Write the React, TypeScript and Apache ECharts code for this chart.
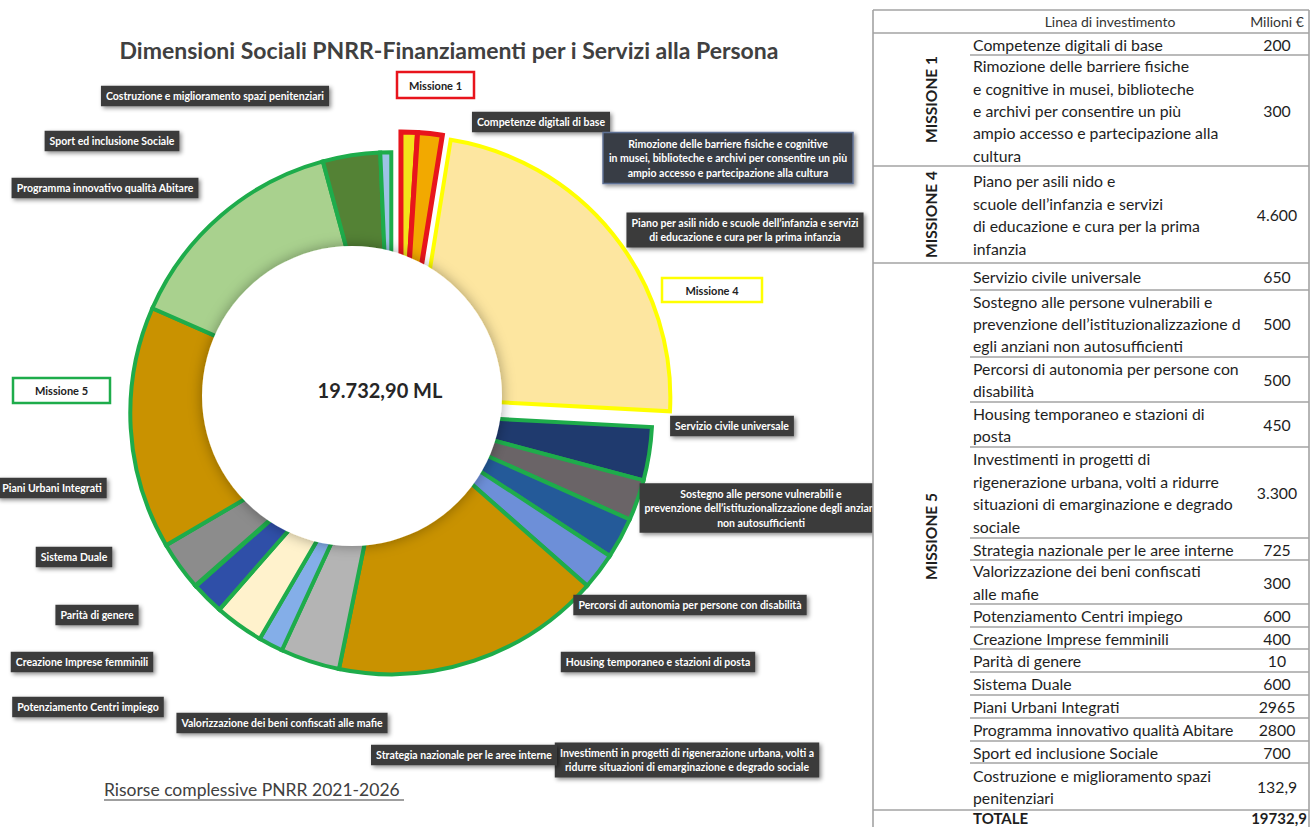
import React, { useEffect, useRef } from "react";
import * as echarts from "echarts";

// ---------------- DATA ----------------
const categories = [
  "Competenze digitali di base",
  "Rimozione delle barriere fisiche e cognitive in musei, biblioteche e archivi per consentire un più ampio accesso e partecipazione alla cultura",
  "Piano per asili nido e scuole dell’infanzia e servizi di educazione e cura per la prima infanzia",
  "Servizio civile universale",
  "Sostegno alle persone vulnerabili e prevenzione dell’istituzionalizzazione degli anziani non autosufficienti",
  "Percorsi di autonomia per persone con disabilità",
  "Housing temporaneo e stazioni di posta",
  "Investimenti in progetti di rigenerazione urbana, volti a ridurre situazioni di emarginazione e degrado sociale",
  "Strategia nazionale per le aree interne",
  "Valorizzazione dei beni confiscati alle mafie",
  "Potenziamento Centri impiego",
  "Creazione Imprese femminili",
  "Parità di genere",
  "Sistema Duale",
  "Piani Urbani Integrati",
  "Programma innovativo qualità Abitare",
  "Sport ed inclusione Sociale",
  "Costruzione e miglioramento spazi penitenziari",
];
const values = [200, 300, 4600, 650, 500, 500, 450, 3300, 725, 300, 600, 400, 10, 600, 2965, 2800, 700, 132.9];
const valueLabels = ["200", "300", "4.600", "650", "500", "500", "450", "3.300", "725", "300", "600", "400", "10", "600", "2965", "2800", "700", "132,9"];
const missionOf = [1, 1, 4, 5, 5, 5, 5, 5, 5, 5, 5, 5, 5, 5, 5, 5, 5, 5];
const missionIds = [1, 4, 5];
const missionTitles = ["MISSIONE 1", "MISSIONE 4", "MISSIONE 5"];
const missionBoxTitles = ["Missione 1", "Missione 4", "Missione 5"];
const tableLines = [
  "Competenze digitali di base",
  "Rimozione delle barriere fisiche\ne cognitive in musei, biblioteche\ne archivi per consentire un più\nampio accesso e partecipazione alla\ncultura",
  "Piano per asili nido e\nscuole dell’infanzia e servizi\ndi educazione e cura per la prima\ninfanzia",
  "Servizio civile universale",
  "Sostegno alle persone vulnerabili e\nprevenzione dell’istituzionalizzazione d\negli anziani non autosufficienti",
  "Percorsi di autonomia per persone con\ndisabilità",
  "Housing temporaneo e stazioni di\nposta",
  "Investimenti in progetti di\nrigenerazione urbana, volti a ridurre\nsituazioni di emarginazione e degrado\nsociale",
  "Strategia nazionale per le aree interne",
  "Valorizzazione dei beni confiscati\nalle mafie",
  "Potenziamento Centri impiego",
  "Creazione Imprese femminili",
  "Parità di genere",
  "Sistema Duale",
  "Piani Urbani Integrati",
  "Programma innovativo qualità Abitare",
  "Sport ed inclusione Sociale",
  "Costruzione e miglioramento spazi\npenitenziari",
];
const boxLines = [
  "Competenze digitali di base",
  "Rimozione delle barriere fisiche e cognitive\nin musei, biblioteche e archivi per consentire un più\nampio accesso e partecipazione alla cultura",
  "Piano per asili nido e scuole dell’infanzia e servizi\ndi educazione e cura per la prima infanzia",
  "Servizio civile universale",
  "Sostegno alle persone vulnerabili e\nprevenzione dell’istituzionalizzazione degli anziani\nnon autosufficienti",
  "Percorsi di autonomia per persone con disabilità",
  "Housing temporaneo e stazioni di posta",
  "Investimenti in progetti di rigenerazione urbana, volti a\nridurre situazioni di emarginazione e degrado sociale",
  "Strategia nazionale per le aree interne",
  "Valorizzazione dei beni confiscati alle mafie",
  "Potenziamento Centri impiego",
  "Creazione Imprese femminili",
  "Parità di genere",
  "Sistema Duale",
  "Piani Urbani Integrati",
  "Programma innovativo qualità Abitare",
  "Sport ed inclusione Sociale",
  "Costruzione e miglioramento spazi penitenziari",
];
const titleText = "Dimensioni Sociali PNRR-Finanziamenti per i Servizi alla Persona";
const subtitleText = "Risorse complessive PNRR 2021-2026";
const centerText = "19.732,90 ML";
const headerDesc = "Linea di investimento";
const headerValue = "Milioni €";
const totalName = "TOTALE";
const totalValue = "19732,9";

// ---------------- STYLE / LAYOUT ----------------
const sliceColors = [
  "#f3e21a", "#f2a900", "#fde6a0", "#1f3a6e", "#6a6467", "#245a99", "#6d8fd8",
  "#c99200", "#b4b4b4", "#84aee8", "#fff2cc", "#2f4fa8", "#5b9bd5", "#8c8c8c",
  "#c99200", "#a9d18e", "#548235", "#9dc3e6",
];
const missionBorder = ["#e8141c", "#ffff00", "#1eac4b"];
const missionBorderWidth = [5, 4, 4];
const PIE_C = [400, 405];
const PIE_R = 261;
const EXPLODE = 12;
const HOLE = { cx: 352, cy: 396, r: 150 };

// label box anchors [x, y, align]
const boxPos: [number, number, string][] = [
  [541, 122, "center"], [728, 158, "center"], [745, 230, "center"], [732, 426, "center"],
  [761, 508, "center"], [690, 605, "center"], [658, 662, "center"], [687, 760, "center"],
  [464, 755, "center"], [282, 723, "center"], [88, 707, "center"], [82, 662, "center"],
  [97, 615, "center"], [74, 557, "center"], [52, 488, "center"], [105, 188, "center"],
  [112, 141, "center"], [215, 96, "center"],
];
const missionBoxPos = [
  { x: 397, y: 72, w: 77, h: 26 },
  { x: 662, y: 278, w: 100, h: 24 },
  { x: 13, y: 378, w: 97, h: 25 },
];
const rowTops = [33, 55, 166, 263, 290, 357, 402, 447, 538, 560, 604, 627, 649, 672, 695, 718, 741, 763, 810];
const T = { left: 873, right: 1309, top: 10, bottom: 827, descX: 973, valX: 1277, missX: 931, innerLineX: 970 };
const FONT = "Lato, 'Noto Sans', sans-serif";

function buildOption() {
  const total = values.reduce((a, b) => a + b, 0);
  const series = missionIds.map((m, gi) => {
    let before = 0;
    let sum = 0;
    let seen = false;
    values.forEach((v, i) => {
      if (missionOf[i] === m) { sum += v; seen = true; } else if (!seen) before += v;
    });
    const midDeg = ((before + sum / 2) / total) * 360;
    const rad = (midDeg * Math.PI) / 180;
    const cx = PIE_C[0] + EXPLODE * Math.sin(rad);
    const cy = PIE_C[1] - EXPLODE * Math.cos(rad);
    return {
      type: "pie",
      center: [cx, cy],
      radius: [0, PIE_R],
      startAngle: 90,
      clockwise: true,
      silent: true,
      z: 2,
      label: { show: false },
      labelLine: { show: false },
      emphasis: { disabled: true },
      data: categories.map((name, i) => ({
        name,
        value: values[i],
        itemStyle:
          missionOf[i] === m
            ? { color: sliceColors[i], borderColor: missionBorder[gi], borderWidth: missionBorderWidth[gi], borderJoin: "miter" }
            : { color: "rgba(0,0,0,0)", borderWidth: 0 },
      })),
    };
  });

  const g: any[] = [];
  // hole
  g.push({
    type: "circle", z: 10,
    shape: { cx: HOLE.cx, cy: HOLE.cy, r: HOLE.r },
    style: { fill: "#ffffff", shadowBlur: 14, shadowColor: "rgba(0,0,0,0.35)" },
  });
  g.push({
    type: "text", z: 11, x: 380, y: 390,
    style: { text: centerText, fontFamily: FONT, fontWeight: "bold", fontSize: 20, fill: "#262626", align: "center", verticalAlign: "middle" },
  });
  // title & subtitle
  g.push({
    type: "text", z: 11, x: 449, y: 50,
    style: { text: titleText, fontFamily: FONT, fontWeight: "bold", fontSize: 23, fill: "#404040", align: "center", verticalAlign: "middle" },
  });
  g.push({
    type: "text", z: 11, x: 104, y: 789,
    style: { text: subtitleText, fontFamily: FONT, fontSize: 17.5, fill: "#404040", align: "left", verticalAlign: "middle" },
  });
  g.push({ type: "line", z: 11, shape: { x1: 104, y1: 800, x2: 404, y2: 800 }, style: { stroke: "#404040", lineWidth: 1.2 } });

  // mission boxes
  missionBoxPos.forEach((b, i) => {
    g.push({
      type: "rect", z: 11, shape: { x: b.x, y: b.y, width: b.w, height: b.h },
      style: { fill: "#ffffff", stroke: missionBorder[i], lineWidth: 2.5 },
    });
    g.push({
      type: "text", z: 12, x: b.x + b.w / 2, y: b.y + b.h / 2,
      style: { text: missionBoxTitles[i], fontFamily: FONT, fontWeight: "bold", fontSize: 11, fill: "#222", align: "center", verticalAlign: "middle" },
    });
  });

  // label boxes
  boxLines.forEach((txt, i) => {
    const [x, y, align] = boxPos[i];
    g.push({
      type: "text", z: 13 + (i === 8 ? 1 : 0), x, y,
      style: {
        text: txt, fontFamily: FONT, fontWeight: "bold", fontSize: 10.5, lineHeight: 14.5,
        fill: "#ffffff", align, verticalAlign: "middle",
        backgroundColor: i === 1 ? "#373c45" : "#3b3b3b", padding: [3, 5],
        borderColor: i === 1 ? "#5d6f93" : undefined, borderWidth: i === 1 ? 1.5 : 0,
        shadowBlur: 4, shadowColor: "rgba(0,0,0,0.45)", shadowOffsetX: 2, shadowOffsetY: 2,
      },
    });
  });

  // table background (clips overflowing labels)
  g.push({ type: "rect", z: 20, shape: { x: T.left, y: 0, width: 1310 - T.left, height: 827 }, style: { fill: "#ffffff" } });
  const lineStyle = { stroke: "#a3a3a3", lineWidth: 1.6 };
  const hline = (x1: number, y: number) => g.push({ type: "line", z: 21, shape: { x1, y1: y, x2: T.right, y2: y }, style: lineStyle });
  hline(T.left, T.top);
  hline(T.left, rowTops[0]);
  g.push({ type: "line", z: 21, shape: { x1: T.left, y1: T.top, x2: T.left, y2: T.bottom }, style: lineStyle });
  g.push({ type: "line", z: 21, shape: { x1: T.right, y1: T.top, x2: T.right, y2: T.bottom }, style: lineStyle });
  for (let i = 1; i < rowTops.length; i++) {
    const boundary = i === rowTops.length - 1 || missionOf[i] !== missionOf[i - 1];
    hline(boundary ? T.left : T.innerLineX, rowTops[i]);
  }
  // header
  g.push({ type: "text", z: 22, x: 1110, y: 21, style: { text: headerDesc, fontFamily: FONT, fontSize: 14, fill: "#333", align: "center", verticalAlign: "middle" } });
  g.push({ type: "text", z: 22, x: T.valX, y: 21, style: { text: headerValue, fontFamily: FONT, fontSize: 14, fill: "#333", align: "center", verticalAlign: "middle" } });
  // rows
  tableLines.forEach((t, i) => {
    const yc = (rowTops[i] + rowTops[i + 1]) / 2;
    g.push({ type: "text", z: 22, x: T.descX, y: yc, style: { text: t, fontFamily: FONT, fontSize: 15.8, lineHeight: 22.4, fill: "#1e1e1e", align: "left", verticalAlign: "middle" } });
    g.push({ type: "text", z: 22, x: T.valX, y: yc, style: { text: valueLabels[i], fontFamily: FONT, fontSize: 15.8, fill: "#1e1e1e", align: "center", verticalAlign: "middle" } });
  });
  // mission vertical titles
  missionIds.forEach((m, gi) => {
    const idx = missionOf.map((v, i) => (v === m ? i : -1)).filter((i) => i >= 0);
    const y0 = rowTops[idx[0]];
    const y1 = rowTops[idx[idx.length - 1] + 1];
    g.push({
      type: "text", z: 22, x: T.missX, y: (y0 + y1) / 2, rotation: Math.PI / 2,
      style: { text: missionTitles[gi], fontFamily: FONT, fontWeight: "bold", fontSize: 15.5, fill: "#1e1e1e", align: "center", verticalAlign: "middle" },
    });
  });
  // total
  g.push({ type: "text", z: 22, x: T.descX, y: 818, style: { text: totalName, fontFamily: FONT, fontWeight: "bold", fontSize: 15, fill: "#1e1e1e", align: "left", verticalAlign: "middle" } });
  g.push({ type: "text", z: 22, x: 1279, y: 818, style: { text: totalValue, fontFamily: FONT, fontWeight: "bold", fontSize: 15, fill: "#1e1e1e", align: "center", verticalAlign: "middle" } });

  return {
    animation: false,
    backgroundColor: "#ffffff",
    series,
    graphic: { elements: g },
  };
}

export default function App() {
  const ref = useRef<HTMLDivElement>(null);
  useEffect(() => {
    if (!ref.current) return;
    const chart = echarts.init(ref.current, null, { renderer: "svg" });
    chart.setOption(buildOption() as any);
    return () => chart.dispose();
  }, []);
  return <div ref={ref} style={{ position: "absolute", left: 0, top: 0, width: 1310, height: 827 }} />;
}
